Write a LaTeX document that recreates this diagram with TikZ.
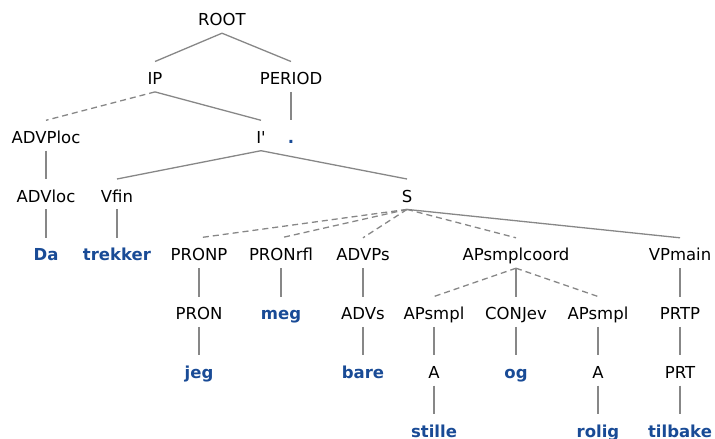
\documentclass[tikz,border=0pt]{standalone}
\usepackage{fontspec}
\newfontfamily\catfont{DejaVu Sans}
\definecolor{wordblue}{RGB}{25,75,150}
\definecolor{edgegray}{RGB}{135,135,135}
\tikzset{
  cat/.style={anchor=base, inner sep=0pt, text height=22.8pt, text depth=7.2pt, font=\catfont\fontsize{16.5}{18}\selectfont, text=black},
  word/.style={cat, font=\catfont\fontsize{16.5}{18}\selectfont\bfseries, text=wordblue},
  edge/.style={draw=edgegray, line width=1.3pt},
  dedge/.style={edge, dash pattern=on 6pt off 4pt},
}
\begin{document}
\begin{tikzpicture}[x=1pt,y=-1pt]
\useasboundingbox (0,0) rectangle (715,439);
% levels (baselines)
\def\la{25.8}\def\lb{84.5}\def\lc{143.3}\def\ld{202}
\def\le{260.8}\def\lf{319.5}\def\lg{378.3}\def\lh{437}
\node[cat] (root) at (222,\la) {ROOT};
\node[cat] (ip) at (155,\lb) {IP};
\node[cat] (period) at (291,\lb) {PERIOD};
\node[cat] (advploc) at (46,\lc) {ADVPloc};
\node[cat] (ibar) at (261,\lc) {I'};
\node[word] (dot) at (291,\lc) {.};
\node[cat] (advloc) at (46,\ld) {ADVloc};
\node[cat] (vfin) at (117,\ld) {Vfin};
\node[cat] (s) at (407,\ld) {S};
\node[word] (da) at (46,\le) {Da};
\node[word] (trekker) at (117,\le) {trekker};
\node[cat] (pronp) at (199,\le) {PRONP};
\node[cat] (pronrfl) at (281,\le) {PRONrfl};
\node[cat] (advps) at (363,\le) {ADVPs};
\node[cat] (apcoord) at (516,\le) {APsmplcoord};
\node[cat] (vpmain) at (680,\le) {VPmain};
\node[cat] (pron) at (199,\lf) {PRON};
\node[word] (meg) at (281,\lf) {meg};
\node[cat] (advs) at (363,\lf) {ADVs};
\node[cat] (apa) at (434,\lf) {APsmpl};
\node[cat] (conj) at (516,\lf) {CONJev};
\node[cat] (apb) at (598,\lf) {APsmpl};
\node[cat] (prtp) at (680,\lf) {PRTP};
\node[word] (jeg) at (199,\lg) {jeg};
\node[word] (bare) at (363,\lg) {bare};
\node[cat] (aa) at (434,\lg) {A};
\node[word] (og) at (516,\lg) {og};
\node[cat] (ab) at (598,\lg) {A};
\node[cat] (prt) at (680,\lg) {PRT};
\node[word] (stille) at (434,\lh) {stille};
\node[word] (rolig) at (598,\lh) {rolig};
\node[word] (tilbake) at (680,\lh) {tilbake};
% edges
\draw[edge] (root.south) -- (ip.north);
\draw[edge] (root.south) -- (period.north);
\draw[dedge] (ip.south) -- (advploc.north);
\draw[edge] (ip.south) -- (ibar.north);
\draw[edge] (period.south) -- (dot.north);
\draw[edge] (advploc.south) -- (advloc.north);
\draw[edge] (ibar.south) -- (vfin.north);
\draw[edge] (ibar.south) -- (s.north);
\draw[edge] (advloc.south) -- (da.north);
\draw[edge] (vfin.south) -- (trekker.north);
\draw[dedge] (s.south) -- (pronp.north);
\draw[dedge] (s.south) -- (pronrfl.north);
\draw[dedge] (s.south) -- (advps.north);
\draw[dedge] (s.south) -- (apcoord.north);
\draw[edge] (s.south) -- (vpmain.north);
\draw[edge] (pronp.south) -- (pron.north);
\draw[edge] (pronrfl.south) -- (meg.north);
\draw[edge] (advps.south) -- (advs.north);
\draw[dedge] (apcoord.south) -- (apa.north);
\draw[edge] (apcoord.south) -- (conj.north);
\draw[dedge] (apcoord.south) -- (apb.north);
\draw[edge] (vpmain.south) -- (prtp.north);
\draw[edge] (pron.south) -- (jeg.north);
\draw[edge] (advs.south) -- (bare.north);
\draw[edge] (apa.south) -- (aa.north);
\draw[edge] (conj.south) -- (og.north);
\draw[edge] (apb.south) -- (ab.north);
\draw[edge] (prtp.south) -- (prt.north);
\draw[edge] (aa.south) -- (stille.north);
\draw[edge] (ab.south) -- (rolig.north);
\draw[edge] (prt.south) -- (tilbake.north);
\end{tikzpicture}
\end{document}
